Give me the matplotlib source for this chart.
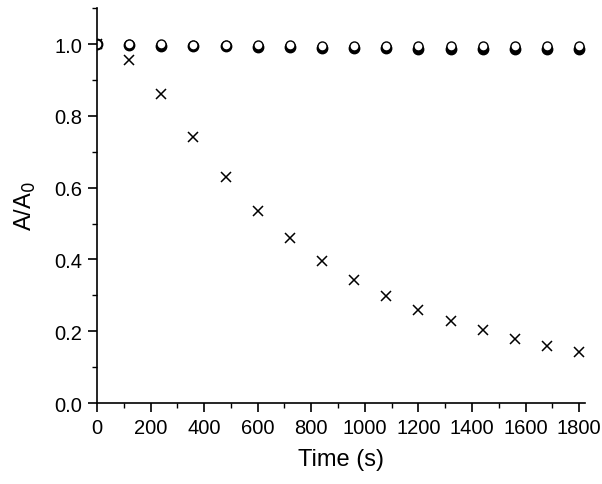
import matplotlib
matplotlib.use("Agg")
import matplotlib.pyplot as plt
from matplotlib.ticker import MultipleLocator

plt.rcParams['font.family'] = ['Liberation Sans', 'DejaVu Sans']

time_s = [0, 120, 240, 360, 480, 600, 720, 840, 960, 1080, 1200, 1320, 1440, 1560, 1680, 1800]
series_cross = [1.0, 0.955, 0.86, 0.74, 0.63, 0.535, 0.46, 0.395, 0.343, 0.298, 0.26, 0.228, 0.203, 0.178, 0.16, 0.143]
series_filled = [1.0, 0.998, 0.996, 0.995, 0.994, 0.993, 0.991, 0.990, 0.990, 0.988, 0.987, 0.987, 0.986, 0.985, 0.985, 0.985]
series_open = [1.0, 1.0, 0.999, 0.998, 0.998, 0.998, 0.997, 0.996, 0.996, 0.996, 0.995, 0.995, 0.995, 0.995, 0.995, 0.995]

fig = plt.figure(figsize=(6.02, 4.85), dpi=100)
ax = fig.add_axes([0.161, 0.167, 0.811, 0.814])

ax.plot(time_s, series_cross, linestyle='none', marker='x', color='black', markersize=7, markeredgewidth=1.1, clip_on=True)
ax.plot(time_s, series_filled, linestyle='none', marker='o', color='black', markersize=7.5, clip_on=True)
ax.plot(time_s, series_open, linestyle='none', marker='o', markerfacecolor='white', markeredgecolor='black', markersize=6.5, markeredgewidth=1.0, clip_on=True)

ax.set_xlim(0, 1822)
ax.set_ylim(0, 1.1)
ax.xaxis.set_major_locator(MultipleLocator(200))
ax.xaxis.set_minor_locator(MultipleLocator(100))
ax.yaxis.set_major_locator(MultipleLocator(0.2))
ax.yaxis.set_minor_locator(MultipleLocator(0.1))
ax.yaxis.set_major_formatter(matplotlib.ticker.FormatStrFormatter('%.1f'))

for s in ['top', 'right']:
    ax.spines[s].set_visible(False)
for s in ['left', 'bottom']:
    ax.spines[s].set_linewidth(1.2)

ax.tick_params(which='major', direction='out', length=6.5, width=1.2, labelsize=14.5, pad=4)
ax.tick_params(which='minor', direction='out', length=3.5, width=1.0)

ax.set_xlabel('Time (s)', fontsize=17, labelpad=8)
ax.set_ylabel('A/A$_0$', fontsize=17, labelpad=12)

fig.savefig('out.png', dpi=100)
